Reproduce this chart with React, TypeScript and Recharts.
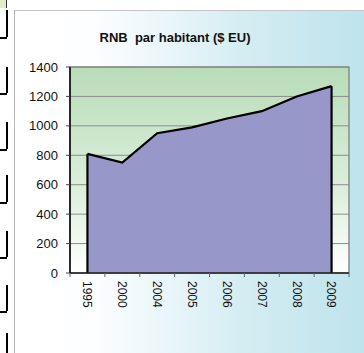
import React from "react";
import {
  ComposedChart,
  Area,
  XAxis,
  YAxis,
  CartesianGrid,
  ReferenceLine,
  ReferenceArea,
} from "recharts";

const years = ["1995", "2000", "2004", "2005", "2006", "2007", "2008", "2009"];
const gniPerCapita = [810, 750, 950, 990, 1050, 1100, 1200, 1270];
const yTicks = [0, 200, 400, 600, 800, 1000, 1200, 1400];

const data = years.map((year, i) => ({ year, gni: gniPerCapita[i] }));

// bits of the neighbouring table that show at the left edge
const tableSegments = [
  [10, 37],
  [67, 93],
  [122, 149],
  [175, 202],
  [231, 257],
  [285, 311],
  [333, 353],
];

const font = "'Liberation Sans', Arial, sans-serif";

function YearTick(props: any) {
  const { x, y, payload, index } = props;
  const half = payload && payload.offset ? payload.offset : 17.4;
  const last = index === years.length - 1;
  return (
    <g>
      <line x1={x - half} x2={x - half} y1={y - 8} y2={y - 4} stroke="#666" />
      {last && <line x1={x + half} x2={x + half} y1={y - 8} y2={y - 4} stroke="#666" />}
      <text
        x={x}
        y={y}
        transform={`rotate(90, ${x}, ${y})`}
        textAnchor="start"
        dy="0.35em"
        fontSize={12}
        fontFamily={font}
        fill="#111"
      >
        {payload.value}
      </text>
    </g>
  );
}

export default function App() {
  return (
    <div style={{ position: "absolute", left: 0, top: 0, width: 364, height: 353, background: "#fff", overflow: "hidden" }}>
      <div style={{ position: "absolute", left: 0, top: 0, width: 6, height: 8, background: "#e2ecc9", borderRight: "1px solid #333" }} />
      {tableSegments.map(([a, b]) => (
        <React.Fragment key={a}>
          <div style={{ position: "absolute", left: 6, top: a, width: 1.5, height: b - a, background: "#000" }} />
          <div style={{ position: "absolute", left: 0, top: b, width: 7, height: 1.5, background: "#000" }} />
        </React.Fragment>
      ))}
      <div
        style={{
          position: "absolute",
          left: 14,
          top: 10,
          width: 350,
          height: 343,
          borderLeft: "1.5px solid #b9b9b9",
          borderTop: "1.5px solid #c4c4c4",
          background: "linear-gradient(to right, #ffffff 0%, #fdfeff 22%, #e8f5f9 45%, #d4edf2 65%, #bee3ec 100%)",
        }}
      />
      <div
        style={{
          position: "absolute",
          left: 0,
          top: 30,
          width: 350,
          textAlign: "center",
          fontFamily: font,
          fontWeight: "bold",
          fontSize: 13,
          whiteSpace: "pre",
          color: "#111",
        }}
      >
        {"RNB  par habitant ($ EU)"}
      </div>
      <div style={{ position: "absolute", left: 0, top: 0 }}>
        <ComposedChart width={364} height={353} data={data} margin={{ top: 67, right: 15, left: 30, bottom: 40 }}>
          <defs>
            <linearGradient id="plotBg" x1="0" y1="0" x2="0" y2="1">
              <stop offset="0%" stopColor="#b8dcb8" />
              <stop offset="60%" stopColor="#dcefdc" />
              <stop offset="100%" stopColor="#ffffff" />
            </linearGradient>
          </defs>
          <CartesianGrid vertical={false} stroke="#8c8c8c" fill="url(#plotBg)" fillOpacity={1} />
          <XAxis
            dataKey="year"
            scale="band"
            height={40}
            axisLine={{ stroke: "#222", strokeWidth: 1.5 }}
            tickLine={false}
            tickSize={0}
            tickMargin={8}
            interval={0}
            tick={<YearTick />}
          />
          <YAxis
            width={40}
            domain={[0, 1400]}
            ticks={yTicks}
            interval={0}
            axisLine={{ stroke: "#000", strokeWidth: 1.5 }}
            tickLine={{ stroke: "#444" }}
            tickSize={4}
            tickMargin={8}
            tick={{ fontSize: 13, fontFamily: font, fill: "#111" }}
          />
          <Area
            dataKey="gni"
            type="linear"
            fill="#9797c9"
            fillOpacity={1}
            stroke="#000"
            strokeWidth={2.2}
            dot={false}
            activeDot={false}
            isAnimationActive={false}
          />
          <ReferenceLine
            segment={[{ x: years[0], y: 0 }, { x: years[0], y: gniPerCapita[0] }]}
            stroke="#000"
            strokeWidth={2.2}
          />
          <ReferenceLine
            segment={[
              { x: years[years.length - 1], y: 0 },
              { x: years[years.length - 1], y: gniPerCapita[gniPerCapita.length - 1] },
            ]}
            stroke="#000"
            strokeWidth={2.2}
          />
          <ReferenceArea y1={0} y2={1400} fill="none" stroke="#8a8a8a" strokeWidth={1.5} />
        </ComposedChart>
      </div>
    </div>
  );
}
